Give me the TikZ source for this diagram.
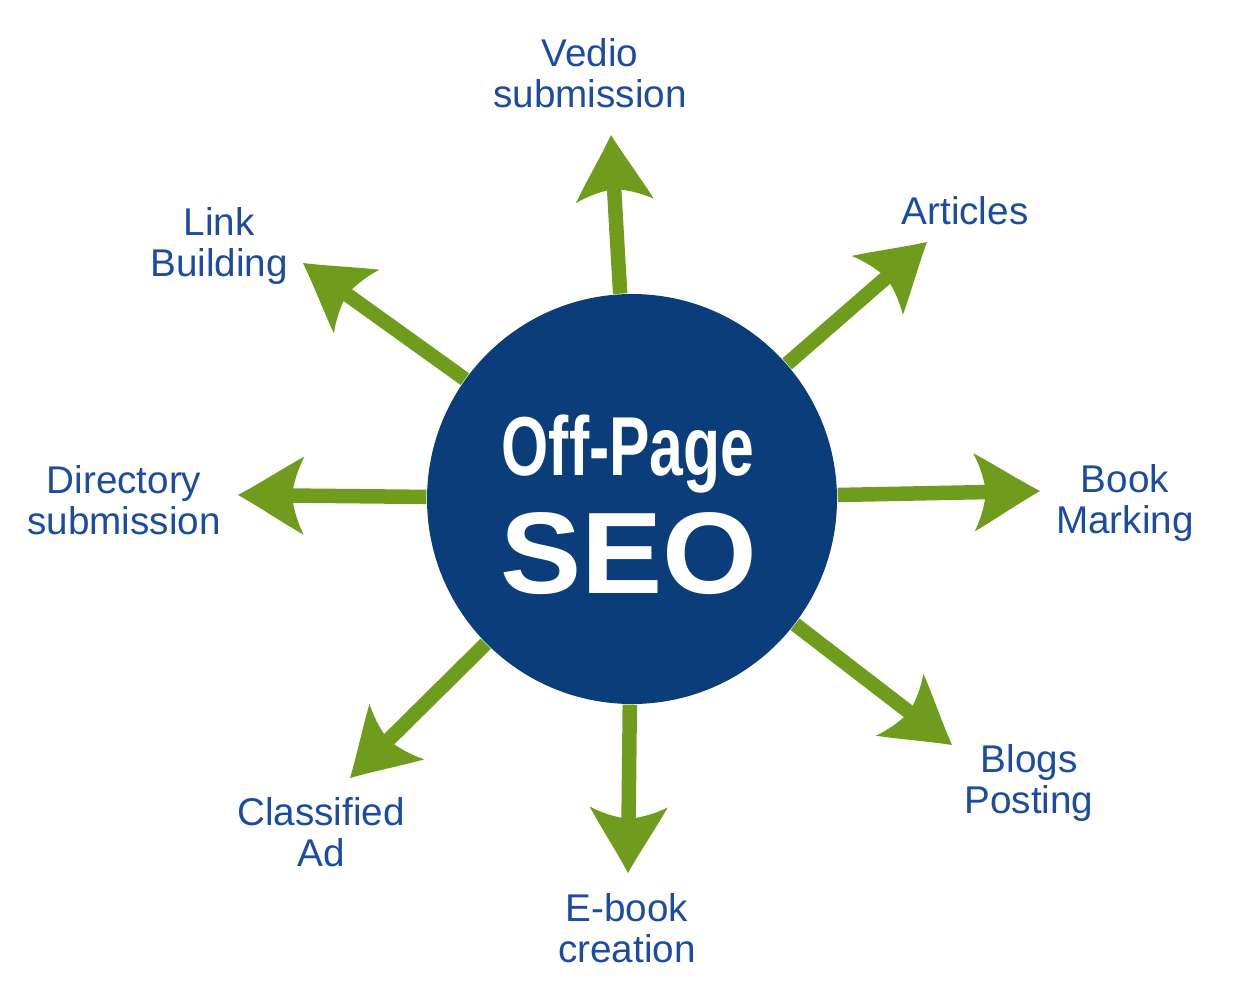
\documentclass[tikz,border=0pt]{standalone}
\usepackage{fontspec}
\setmainfont{Liberation Sans}
\usepackage{graphicx}

\definecolor{seoblue}{RGB}{11,61,123}
\definecolor{topicblue}{RGB}{28,76,162}
\definecolor{arrowgreen}{RGB}{112,156,30}

\tikzset{
  topic/.style={text=topicblue, align=center, inner sep=0pt, font=\fontsize{11}{11.7}\selectfont},
  shaft/.style={draw=arrowgreen, line width=1.45mm, shorten >=5mm},
  head/.pic={
    \fill[arrowgreen, shorten >=0pt] (0,0) .. controls (-22,-12) and (-46,-28) .. (-66,-39)
      .. controls (-60,-27) and (-56,-15) .. (-54,0)
      .. controls (-56,15) and (-60,27) .. (-66,39)
      .. controls (-46,28) and (-22,12) .. (0,0) -- cycle;
  }
}

\begin{document}
\begin{tikzpicture}[x=0.1mm, y=-0.1mm]
		\useasboundingbox (0,0) rectangle (1254,1000);

		\node[circle, fill=seoblue, minimum size=41mm, inner sep=0pt] (seo) at (632,499) {};
		\node[text=white, anchor=base, inner sep=0pt, font=\bfseries\fontsize{23.8}{24}\selectfont] (offpage) at (628,475) {\scalebox{0.725}[1]{Off-Page}};
		\node[text=white, anchor=base, inner sep=0pt, font=\bfseries\fontsize{33}{34}\selectfont] (seotitle) at (629,593) {\scalebox{1.05}[1]{SEO}};

		% arrow tips
		\coordinate (tipvedio) at (611,135);
		\coordinate (tiparticles) at (927,242);
		\coordinate (tipbook) at (1040,491);
		\coordinate (tipblogs) at (952,745);
		\coordinate (tipebook) at (628,873);
		\coordinate (tipclassified) at (350,778);
		\coordinate (tipdirectory) at (238,495);
		\coordinate (tiplink) at (303,263);

		\foreach \t in {vedio, articles, book, blogs, ebook, classified, directory, link}
			\draw[shaft] (seo) -- (tip\t) pic[pos=1, sloped, allow upside down] {head};

		\node[topic] (vedio) at (590,73) {Vedio\\submission};
		\node[topic] (articles) at (965,211) {Articles};
		\node[topic] (book) at (1125,503) {Book\\Marking};
		\node[topic] (blogs) at (1029,783) {Blogs\\Posting};
		\node[topic] (ebook) at (627,928) {E-book\\creation};
		\node[topic] (classified) at (321,832) {Classified\\Ad};
		\node[topic] (directory) at (124,500) {Directory\\submission};
		\node[topic] (link) at (219,246) {Link\\Building};
	\end{tikzpicture}
\end{document}
